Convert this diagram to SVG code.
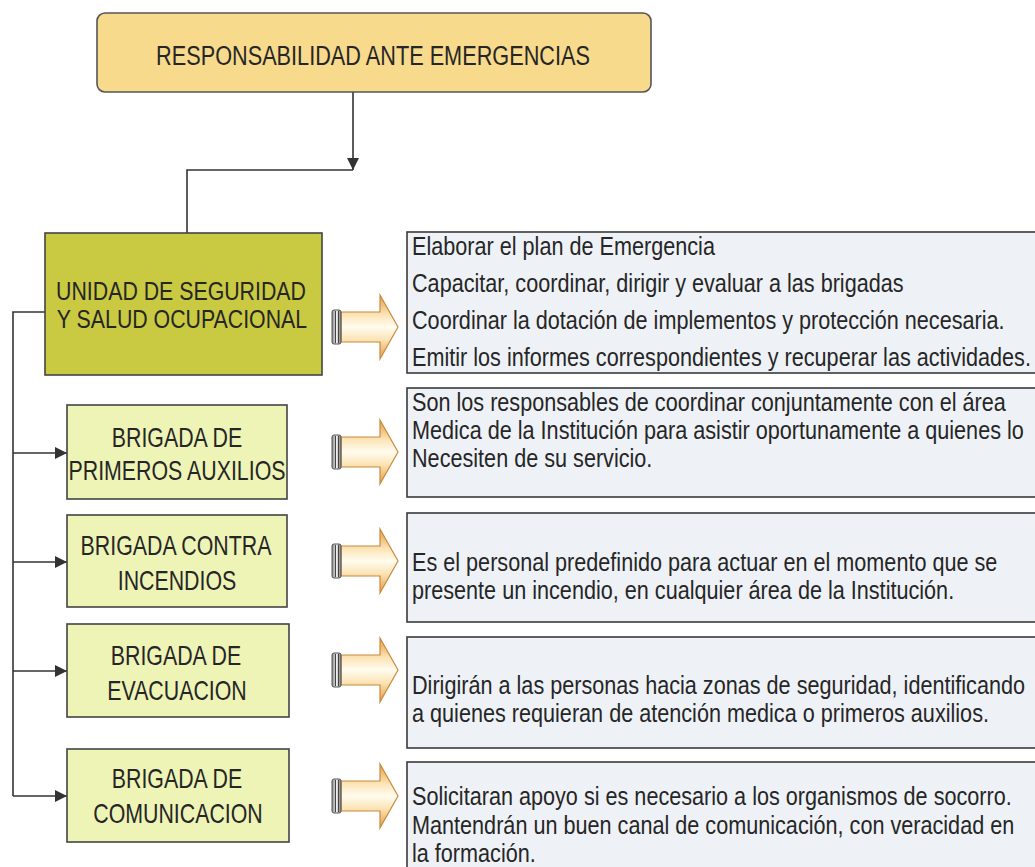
<svg xmlns="http://www.w3.org/2000/svg" xmlns:xlink="http://www.w3.org/1999/xlink" width="1035" height="867" viewBox="0 0 1035 867">
<style>
  text { font-family: "Liberation Sans", Arial, sans-serif; fill: #262626; }
  .title { font-size: 28px; }
  .unit { font-size: 25px; }
  .brig { font-size: 27px; }
  .rt { font-size: 26px; }
  .conn { fill: none; stroke: #333; stroke-width: 1.6; }
  .topbox { fill: #f7da8b; stroke: #555; stroke-width: 1.6; }
  .unitbox { fill: #c9ca42; stroke: #444; stroke-width: 1.6; }
  .brigbox { fill: #eef4b6; stroke: #444; stroke-width: 1.6; }
  .descbox { fill: #eef2f7; stroke: #3a3a3a; stroke-width: 1.6; }
</style>
<defs>
  <marker id="ah2" viewBox="0 0 10 10" refX="10" refY="5" markerWidth="12" markerHeight="12" markerUnits="userSpaceOnUse" orient="auto">
    <path d="M0,0 L10,5 L0,10 Z" fill="#333"/>
  </marker>
  <linearGradient id="agrad" x1="0" y1="0" x2="0" y2="1">
    <stop offset="0" stop-color="#e39a44"/>
    <stop offset="0.3" stop-color="#fbe3b4"/>
    <stop offset="0.5" stop-color="#fffcef"/>
    <stop offset="0.7" stop-color="#fbe3b4"/>
    <stop offset="1" stop-color="#e39a44"/>
  </linearGradient>
  <linearGradient id="cgrad" x1="0" y1="0" x2="1" y2="0">
    <stop offset="0" stop-color="#888"/>
    <stop offset="0.5" stop-color="#eee"/>
    <stop offset="1" stop-color="#777"/>
  </linearGradient>
  <g id="blockArrow">
    <path d="M341,-15 H380 V-32 L398,0 L380,32 V15 H341 Z" fill="url(#agrad)" stroke="#c98a3e" stroke-width="1.2"/>
    <rect x="332" y="-17" width="9" height="34" rx="2" fill="url(#cgrad)" stroke="#555" stroke-width="1"/>
    <line x1="335.5" y1="-16" x2="335.5" y2="16" stroke="#444" stroke-width="1"/>
    <line x1="338.5" y1="-16" x2="338.5" y2="16" stroke="#444" stroke-width="1"/>
  </g>
</defs>

<rect width="1035" height="867" fill="#ffffff"/>

<g id="connectors">
  <line class="conn" x1="353" y1="92" x2="353" y2="170" marker-end="url(#ah2)"/>
  <polyline class="conn" points="353,170 187,170 187,233"/>
  <polyline class="conn" points="45,312 13,312 13,796"/>
  <line class="conn" x1="13" y1="453" x2="67" y2="453" marker-end="url(#ah2)"/>
  <line class="conn" x1="13" y1="562" x2="67" y2="562" marker-end="url(#ah2)"/>
  <line class="conn" x1="13" y1="671" x2="67" y2="671" marker-end="url(#ah2)"/>
  <line class="conn" x1="13" y1="796" x2="67" y2="796" marker-end="url(#ah2)"/>
</g>

<g id="block-arrows">
  <use xlink:href="#blockArrow" href="#blockArrow" y="327"/>
  <use xlink:href="#blockArrow" href="#blockArrow" y="452"/>
  <use xlink:href="#blockArrow" href="#blockArrow" y="561"/>
  <use xlink:href="#blockArrow" href="#blockArrow" y="670"/>
  <use xlink:href="#blockArrow" href="#blockArrow" y="796"/>
</g>

<g id="node-title">
  <rect class="topbox" x="97" y="13" width="554" height="79" rx="8"/>
  <text class="title" text-anchor="middle" transform="translate(373,65) scale(0.775,1)">RESPONSABILIDAD ANTE EMERGENCIAS</text>
</g>

<g id="node-unidad">
  <rect class="unitbox" x="45" y="233" width="277" height="142"/>
  <text class="unit" text-anchor="middle" transform="translate(181,300) scale(0.853,1)">UNIDAD DE SEGURIDAD</text>
  <text class="unit" text-anchor="middle" transform="translate(182,328) scale(0.853,1)">Y SALUD OCUPACIONAL</text>
</g>

<g id="node-primeros-auxilios">
  <rect class="brigbox" x="67" y="405" width="220" height="94"/>
  <text class="brig" text-anchor="middle" transform="translate(177,447) scale(0.79,1)">BRIGADA DE</text>
  <text class="brig" text-anchor="middle" transform="translate(177,480) scale(0.79,1)">PRIMEROS AUXILIOS</text>
</g>

<g id="node-incendios">
  <rect class="brigbox" x="67" y="515" width="220" height="92"/>
  <text class="brig" text-anchor="middle" transform="translate(176,555) scale(0.79,1)">BRIGADA CONTRA</text>
  <text class="brig" text-anchor="middle" transform="translate(177,590) scale(0.79,1)">INCENDIOS</text>
</g>

<g id="node-evacuacion">
  <rect class="brigbox" x="67" y="624" width="222" height="93"/>
  <text class="brig" text-anchor="middle" transform="translate(176,665) scale(0.79,1)">BRIGADA DE</text>
  <text class="brig" text-anchor="middle" transform="translate(177,700) scale(0.79,1)">EVACUACION</text>
</g>

<g id="node-comunicacion">
  <rect class="brigbox" x="67" y="749" width="222" height="93"/>
  <text class="brig" text-anchor="middle" transform="translate(177,788) scale(0.79,1)">BRIGADA DE</text>
  <text class="brig" text-anchor="middle" transform="translate(178,823) scale(0.79,1)">COMUNICACION</text>
</g>

<g id="desc-unidad">
  <rect class="descbox" x="407" y="232" width="640" height="141"/>
  <text class="rt" transform="translate(412,255) scale(0.832,1)">Elaborar el plan de Emergencia</text>
  <text class="rt" transform="translate(412,292) scale(0.832,1)">Capacitar, coordinar, dirigir y evaluar a las brigadas</text>
  <text class="rt" transform="translate(412,329) scale(0.832,1)">Coordinar la dotación de implementos y protección necesaria.</text>
  <text class="rt" transform="translate(412,366) scale(0.832,1)">Emitir los informes correspondientes y recuperar las actividades.</text>
</g>

<g id="desc-primeros-auxilios">
  <rect class="descbox" x="407" y="388" width="640" height="109"/>
  <text class="rt" transform="translate(412,411) scale(0.832,1)">Son los responsables de coordinar conjuntamente con el área</text>
  <text class="rt" transform="translate(412,439) scale(0.832,1)">Medica de la Institución para asistir oportunamente a quienes lo</text>
  <text class="rt" transform="translate(412,467) scale(0.832,1)">Necesiten de su servicio.</text>
</g>

<g id="desc-incendios">
  <rect class="descbox" x="407" y="513" width="640" height="109"/>
  <text class="rt" transform="translate(412,571) scale(0.832,1)">Es el personal predefinido para actuar en el momento que se</text>
  <text class="rt" transform="translate(412,599) scale(0.832,1)">presente un incendio, en cualquier área de la Institución.</text>
</g>

<g id="desc-evacuacion">
  <rect class="descbox" x="407" y="637" width="640" height="111"/>
  <text class="rt" transform="translate(412,694) scale(0.832,1)">Dirigirán a las personas hacia zonas de seguridad, identificando</text>
  <text class="rt" transform="translate(412,722) scale(0.832,1)">a quienes requieran de atención medica o primeros auxilios.</text>
</g>

<g id="desc-comunicacion">
  <rect class="descbox" x="407" y="762" width="640" height="120"/>
  <text class="rt" transform="translate(412,805) scale(0.832,1)">Solicitaran apoyo si es necesario a los organismos de socorro.</text>
  <text class="rt" transform="translate(412,834) scale(0.832,1)">Mantendrán un buen canal de comunicación, con veracidad en</text>
  <text class="rt" transform="translate(412,862) scale(0.832,1)">la formación.</text>
</g>
</svg>
